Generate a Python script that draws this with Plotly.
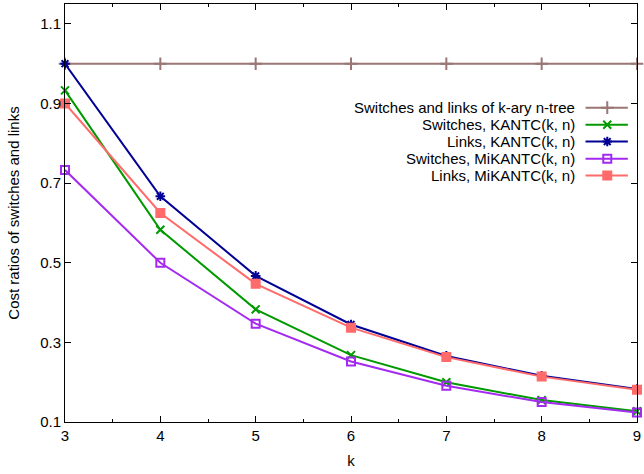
import plotly.graph_objects as go

k = [3, 4, 5, 6, 7, 8, 9]
tree = [1.0, 1.0, 1.0, 1.0, 1.0, 1.0, 1.0]
sw_kantc = [0.933, 0.583, 0.383, 0.268, 0.200, 0.155, 0.127]
ln_kantc = [1.0, 0.667, 0.467, 0.345, 0.266, 0.216, 0.183]
sw_mikantc = [0.733, 0.500, 0.347, 0.252, 0.191, 0.150, 0.124]
ln_mikantc = [0.900, 0.625, 0.447, 0.337, 0.263, 0.214, 0.181]

names = ["Switches and links of k-ary n-tree", "Switches, KANTC(k, n)",
         "Links, KANTC(k, n)", "Switches, MiKANTC(k, n)", "Links, MiKANTC(k, n)"]
series = [tree, sw_kantc, ln_kantc, sw_mikantc, ln_mikantc]
colors = ["#9a7676", "#009a00", "#000094", "#a52af0", "#ff6b6b"]
symbols = ["cross-thin-open", "x-thin-open", "asterisk-open", "square-open", "square"]
msizes = [9, 8, 8, 8, 8]

FONT = "Liberation Sans, Arial, sans-serif"
FS = 15
fig = go.Figure()
for n, s, c, sym, ms in zip(names, series, colors, symbols, msizes):
    fig.add_trace(go.Scatter(x=k, y=s, mode="lines+markers", name=n, showlegend=False,
                             line=dict(color=c, width=2),
                             marker=dict(symbol=sym, size=ms, color=c,
                                         line=dict(color=c, width=2)),
                             cliponaxis=False))

# custom gnuplot-style key (text right, sample left)
row_y = [0.752, 0.711, 0.671, 0.630, 0.590]
x_text, x0, x1, xm = 0.893, 0.910, 0.984, 0.948
for n, c, sym, ms, yy in zip(names, colors, symbols, msizes, row_y):
    fig.add_annotation(x=x_text, y=yy, xref="paper", yref="paper", text=n,
                       showarrow=False, xanchor="right", yanchor="middle",
                       borderpad=0,
                       font=dict(family=FONT, size=FS, color="black"))
    fig.add_shape(type="line", xref="paper", yref="paper", x0=x0, x1=x1, y0=yy, y1=yy,
                  line=dict(color=c, width=2))
    fig.add_trace(go.Scatter(x=[xm], y=[yy], xaxis="x2", yaxis="y2", mode="markers",
                             showlegend=False, hoverinfo="skip",
                             marker=dict(symbol=sym, size=ms, color=c,
                                         line=dict(color=c, width=2))))

axis_common = dict(showgrid=False, zeroline=False, showline=True, linecolor="black",
                   linewidth=1, mirror="allticks", ticks="inside", tickcolor="black",
                   ticklen=6, tickwidth=1, ticklabeloverflow="allow",
                   tickfont=dict(family=FONT, size=FS, color="black"))
fig.update_layout(
    width=644, height=474,
    margin=dict(l=65, r=3, t=3, b=52),
    plot_bgcolor="white", paper_bgcolor="white",
    font=dict(family=FONT, size=FS, color="black"),
    xaxis=dict(range=[3, 9], tickmode="array", tickvals=k, ticktext=[str(v) for v in k],
               title=dict(text="k", font=dict(family=FONT, size=FS), standoff=12),
               minor=dict(ticks="inside", ticklen=3, dtick=0.5, tick0=3, tickcolor="black"),
               **axis_common),
    yaxis=dict(range=[0.1, 1.15], tickmode="array", tickvals=[0.1, 0.3, 0.5, 0.7, 0.9, 1.1],
               ticktext=["0.1", "0.3", "0.5", "0.7", "0.9", "1.1"],
               title=dict(text="Cost ratios of switches and links", font=dict(family=FONT, size=FS),
                          standoff=16),
               **axis_common),
    xaxis2=dict(range=[0, 1], overlaying="x", visible=False, anchor="y2"),
    yaxis2=dict(range=[0, 1], overlaying="y", visible=False, anchor="x2"),
)
fig.write_html("out.html")
